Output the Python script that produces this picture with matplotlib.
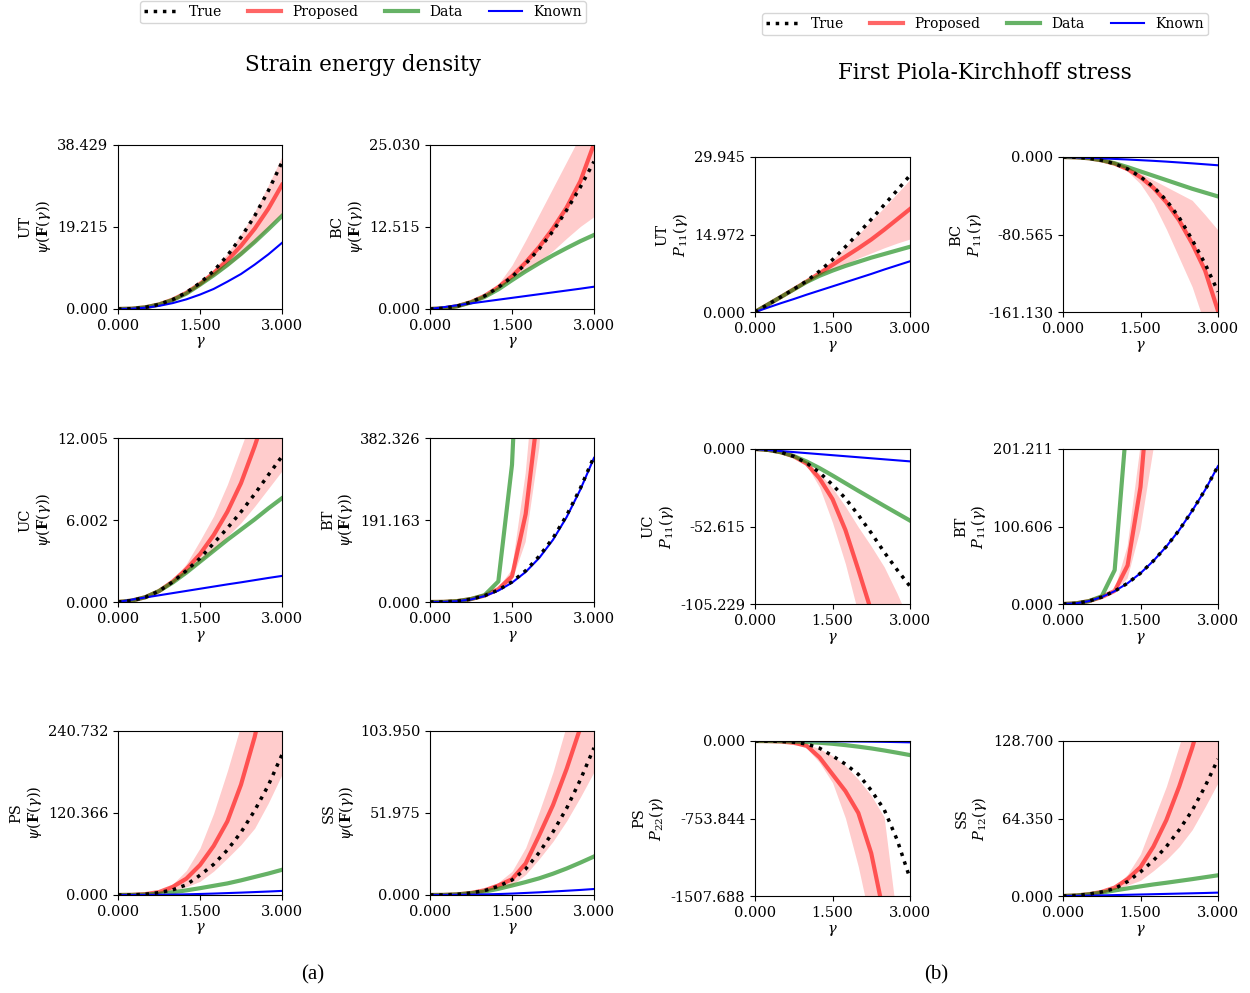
import matplotlib
matplotlib.use("Agg")
import matplotlib.pyplot as plt
from matplotlib.lines import Line2D

plt.rcParams['font.family'] = ['DejaVu Serif']
plt.rcParams['mathtext.fontset'] = 'dejavuserif'
plt.rcParams['font.size'] = 10.5

GAMMA = [0, 0.25, 0.5, 0.75, 1.0, 1.25, 1.5, 1.75, 2.0, 2.25, 2.5, 2.75, 3.0]
CASES = ["UT", "BC", "UC", "BT", "PS", "SS"]
SERIES_LABELS = ["True", "Proposed", "Data", "Known"]

# ---------------- Strain energy density psi ----------------
psi_UT_true = [0, 0.07, 0.39, 1.07, 2.2, 3.85, 6.1, 8.9, 12.5, 16.8, 21.8, 27.7, 34.4]
psi_UT_prop = [0, 0.07, 0.39, 1.07, 2.2, 3.8, 5.9, 8.4, 11.4, 14.8, 18.8, 23.5, 29.1]
psi_UT_hi = [0, 0.07, 0.4, 1.1, 2.25, 3.95, 6.3, 9.3, 13.0, 17.5, 22.8, 29.0, 35.8]
psi_UT_lo = [0, 0.07, 0.38, 1.04, 2.1, 3.65, 5.6, 7.7, 10.0, 12.6, 15.6, 18.9, 22.5]
psi_UT_data = [0, 0.07, 0.39, 1.05, 2.1, 3.6, 5.7, 7.9, 10.3, 12.9, 15.7, 18.7, 21.8]
psi_UT_known = [0, 0.065, 0.3, 0.73, 1.38, 2.26, 3.38, 4.7, 6.4, 8.2, 10.4, 12.8, 15.5]

psi_BC_true = [0, 0.095, 0.44, 1.06, 2.0, 3.3, 4.9, 6.9, 9.2, 11.9, 15.1, 18.6, 22.5]
psi_BC_prop = [0, 0.095, 0.44, 1.06, 2.0, 3.35, 5.0, 7.1, 9.5, 12.3, 15.5, 19.5, 25.2]
psi_BC_hi = [0, 0.1, 0.46, 1.1, 2.15, 3.8, 6.7, 10.5, 14.5, 18.5, 22.5, 26.5, 30.5]
psi_BC_lo = [0, 0.09, 0.42, 1.0, 1.9, 3.2, 4.6, 5.9, 7.2, 8.9, 10.8, 12.6, 14.1]
psi_BC_data = [0, 0.09, 0.42, 1.0, 1.85, 3.0, 4.4, 5.75, 7.0, 8.2, 9.3, 10.35, 11.3]
psi_BC_known = [0, 0.28, 0.57, 0.86, 1.14, 1.42, 1.7, 1.98, 2.26, 2.54, 2.82, 3.1, 3.4]

psi_UC_true = [0, 0.1, 0.35, 0.8, 1.47, 2.3, 3.2, 4.3, 5.4, 6.6, 7.9, 9.3, 10.66]
psi_UC_prop = [0, 0.1, 0.35, 0.8, 1.5, 2.4, 3.5, 4.9, 6.6, 8.7, 11.4, 14.4, 17.6]
psi_UC_hi = [0, 0.1, 0.36, 0.85, 1.6, 2.8, 4.5, 6.3, 8.6, 11.3, 14.0, 17.0, 20.0]
psi_UC_lo = [0, 0.1, 0.34, 0.78, 1.4, 2.1, 2.9, 3.8, 4.8, 5.8, 7.0, 8.3, 9.6]
psi_UC_data = [0, 0.1, 0.35, 0.8, 1.42, 2.15, 2.95, 3.75, 4.55, 5.3, 6.05, 6.85, 7.6]
psi_UC_known = [0, 0.17, 0.33, 0.49, 0.65, 0.81, 0.97, 1.13, 1.29, 1.44, 1.6, 1.76, 1.91]

psi_BT_true = [0, 0.28, 2.05, 6.5, 14.8, 28, 47, 73, 107, 149, 202, 265, 339]
psi_BT_prop = [0, 0.3, 2.1, 6.8, 15, 30, 60, 205, 470, 900, 1500, 2200, 3000]
psi_BT_hi = [0, 0.3, 2.1, 7, 16, 33, 75, 300, 650, 1200, 1800, 2500, 3200]
psi_BT_lo = [0, 0.28, 2.0, 6.5, 14.5, 27, 48, 140, 360, 800, 1400, 2000, 2700]
psi_BT_data = [0, 0.3, 2.1, 7, 16, 48, 320, 1000, 2000, 3000, 4000, 5000, 6000]
psi_BT_known = [0, 0.25, 1.9, 6.0, 13.8, 26.5, 45, 70, 103, 145, 198, 262, 336]

psi_PS_true = [0, 0.15, 1.1, 3.5, 7.5, 15, 29, 45, 66, 92, 124, 161, 206]
psi_PS_prop = [0, 0.2, 1.3, 4.3, 12, 24, 44, 72, 108, 162, 232, 320, 420]
psi_PS_hi = [0, 0.2, 1.5, 5.5, 16, 36, 69, 120, 182, 250, 330, 430, 540]
psi_PS_lo = [0, 0.1, 0.9, 3, 7, 12, 20, 35, 54, 74, 98, 135, 177]
psi_PS_data = [0, 0.1, 0.6, 1.8, 4, 6.8, 10, 13.5, 17, 21.5, 26.5, 31.5, 37]
psi_PS_known = [0, 0.02, 0.1, 0.3, 0.6, 1.0, 1.5, 2.1, 2.8, 3.5, 4.3, 5.1, 6.0]

psi_SS_true = [0, 0.05, 0.4, 1.3, 2.8, 5.5, 9.5, 16.5, 27, 40, 55, 73, 93.3]
psi_SS_prop = [0, 0.05, 0.4, 1.3, 3, 6, 10, 20, 38, 57, 80, 106, 135]
psi_SS_hi = [0, 0.06, 0.5, 1.6, 3.8, 8, 15, 30, 53, 78, 108, 140, 175]
psi_SS_lo = [0, 0.04, 0.3, 1.0, 2.3, 4, 6.4, 13, 23, 34, 47, 62, 78]
psi_SS_data = [0, 0.05, 0.4, 1.1, 2.2, 3.9, 6, 8.2, 10.6, 13.5, 16.8, 20.5, 24.4]
psi_SS_known = [0, 0.02, 0.1, 0.2, 0.4, 0.6, 0.9, 1.3, 1.7, 2.2, 2.7, 3.2, 3.8]

# ---------------- First Piola-Kirchhoff stress ----------------
P_UT_true = [0, 1.45, 2.9, 4.4, 6.0, 7.9, 10.1, 12.6, 15.2, 17.9, 20.7, 23.5, 26.4]
P_UT_prop = [0, 1.45, 2.9, 4.4, 5.9, 7.5, 9.1, 10.7, 12.3, 14.0, 15.9, 17.9, 19.9]
P_UT_hi = [0, 1.45, 2.9, 4.4, 6.0, 7.9, 10.1, 12.5, 15.0, 17.6, 20.2, 22.9, 25.6]
P_UT_lo = [0, 1.45, 2.9, 4.3, 5.7, 7.0, 8.2, 9.3, 10.4, 11.4, 12.4, 13.3, 14.1]
P_UT_data = [0, 1.45, 2.9, 4.35, 5.8, 7.0, 8.0, 8.9, 9.7, 10.5, 11.2, 11.9, 12.6]
P_UT_known = [0, 0.85, 1.7, 2.5, 3.35, 4.15, 4.95, 5.75, 6.55, 7.35, 8.2, 9.0, 9.8]

P_BC_true = [0, -0.3, -1.3, -3.5, -7, -12.5, -20.5, -31, -45, -63, -86, -111, -140]
P_BC_prop = [0, -0.3, -1.3, -3.5, -7, -12.5, -21, -32, -47, -66, -90, -118, -160]
P_BC_hi = [0, -0.3, -1.2, -3.3, -6.5, -11, -17, -24, -31, -38, -45, -60, -76]
P_BC_lo = [0, -0.35, -1.5, -4, -8, -15, -28, -48, -75, -105, -135, -175, -220]
P_BC_data = [0, -0.3, -1.3, -3.4, -6.5, -10.5, -15, -19.5, -24, -28.5, -33, -37, -41]
P_BC_known = [0, -0.4, -0.9, -1.4, -2.0, -2.6, -3.3, -4.0, -4.8, -5.7, -6.6, -7.6, -8.6]

P_UC_true = [0, -0.6, -2.2, -5, -9.5, -16, -24.3, -33.5, -44.8, -57, -70, -82, -93.2]
P_UC_prop = [0, -0.6, -2.2, -5, -10, -20, -34, -55, -82, -110, -140, -175, -210]
P_UC_hi = [0, -0.6, -2.2, -5, -9.5, -16.5, -26.5, -39, -53, -66, -80, -98, -118]
P_UC_lo = [0, -0.6, -2.3, -5.5, -11, -26, -50, -78, -112, -150, -190, -230, -270]
P_UC_data = [0, -0.6, -2.2, -4.8, -8.5, -13, -18, -23.2, -28.4, -33.5, -38.6, -43.6, -48.6]
P_UC_known = [0, -0.7, -1.4, -2.1, -2.8, -3.5, -4.2, -4.9, -5.6, -6.3, -7.0, -7.7, -8.4]

P_BT_true = [0, 0.8, 3.7, 9, 16.7, 27, 40, 56, 74.6, 96, 121, 148, 179]
P_BT_prop = [0, 0.8, 3.7, 9, 17, 50, 152, 350, 700, 1100, 1500, 2000, 2500]
P_BT_hi = [0, 0.8, 3.8, 9.5, 18, 75, 205, 480, 900, 1400, 1900, 2400, 2900]
P_BT_lo = [0, 0.8, 3.6, 8.8, 16, 33, 96, 200, 420, 800, 1200, 1600, 2000]
P_BT_data = [0, 0.8, 3.7, 10, 44, 250, 800, 1500, 2500, 3500, 4500, 5500, 6500]
P_BT_known = [0, 0.8, 3.7, 9, 16.7, 27, 40, 56, 74.6, 96, 121, 148, 179]

P_PS_true = [0, -1, -4, -12, -29, -70, -144, -225, -324, -480, -667, -960, -1337]
P_PS_prop = [0, -1, -5, -18, -46, -160, -324, -487, -700, -1092, -1700, -2400, -3200]
P_PS_hi = [0, -1, -4, -12, -30, -75, -144, -240, -373, -530, -740, -1750, -2500]
P_PS_lo = [0, -1, -6, -25, -70, -210, -405, -750, -1223, -1800, -2500, -3200, -4000]
P_PS_data = [0, -0.5, -2, -5, -10, -17, -27, -40, -55, -72, -92, -114, -137]
P_PS_known = [0, -0.1, -0.3, -0.7, -1.2, -1.9, -2.8, -3.8, -5, -6.5, -8.3, -10.5, -13]

P_SS_true = [0, 0.4, 1.5, 3.4, 6.1, 12, 20, 29.5, 41, 55, 71, 91, 113.7]
P_SS_prop = [0, 0.4, 1.5, 3.4, 7, 14, 24, 41, 63, 91, 123, 160, 200]
P_SS_hi = [0, 0.4, 1.6, 4, 8, 18, 35, 63, 91, 125, 160, 200, 240]
P_SS_lo = [0, 0.4, 1.4, 3, 5.5, 9, 13, 21, 30, 41, 55, 74, 94]
P_SS_data = [0, 0.4, 1.4, 2.8, 4.6, 6.3, 8, 9.6, 11, 12.5, 14, 15.6, 17.2]
P_SS_known = [0, 0.1, 0.3, 0.5, 0.75, 1, 1.25, 1.5, 1.75, 2, 2.25, 2.5, 2.8]

# axis ranges and tick labels
psi_ylims = [(0, 38.429), (0, 25.030), (0, 12.005), (0, 382.326), (0, 240.732), (0, 103.950)]
psi_yticklabels = [["0.000", "19.215", "38.429"], ["0.000", "12.515", "25.030"],
                   ["0.000", "6.002", "12.005"], ["0.000", "191.163", "382.326"],
                   ["0.000", "120.366", "240.732"], ["0.000", "51.975", "103.950"]]
P_ylims = [(0, 29.945), (-161.130, 0), (-105.229, 0), (0, 201.211), (-1507.688, 0), (0, 128.700)]
P_yticklabels = [["0.000", "14.972", "29.945"], ["-161.130", "-80.565", "0.000"],
                 ["-105.229", "-52.615", "0.000"], ["0.000", "100.606", "201.211"],
                 ["-1507.688", "-753.844", "0.000"], ["0.000", "64.350", "128.700"]]
P_components = ["P_{11}", "P_{11}", "P_{11}", "P_{11}", "P_{22}", "P_{12}"]
xticklabels = ["0.000", "1.500", "3.000"]

psi_sets = [
    (psi_UT_true, psi_UT_prop, psi_UT_lo, psi_UT_hi, psi_UT_data, psi_UT_known),
    (psi_BC_true, psi_BC_prop, psi_BC_lo, psi_BC_hi, psi_BC_data, psi_BC_known),
    (psi_UC_true, psi_UC_prop, psi_UC_lo, psi_UC_hi, psi_UC_data, psi_UC_known),
    (psi_BT_true, psi_BT_prop, psi_BT_lo, psi_BT_hi, psi_BT_data, psi_BT_known),
    (psi_PS_true, psi_PS_prop, psi_PS_lo, psi_PS_hi, psi_PS_data, psi_PS_known),
    (psi_SS_true, psi_SS_prop, psi_SS_lo, psi_SS_hi, psi_SS_data, psi_SS_known),
]
P_sets = [
    (P_UT_true, P_UT_prop, P_UT_lo, P_UT_hi, P_UT_data, P_UT_known),
    (P_BC_true, P_BC_prop, P_BC_lo, P_BC_hi, P_BC_data, P_BC_known),
    (P_UC_true, P_UC_prop, P_UC_lo, P_UC_hi, P_UC_data, P_UC_known),
    (P_BT_true, P_BT_prop, P_BT_lo, P_BT_hi, P_BT_data, P_BT_known),
    (P_PS_true, P_PS_prop, P_PS_lo, P_PS_hi, P_PS_data, P_PS_known),
    (P_SS_true, P_SS_prop, P_SS_lo, P_SS_hi, P_SS_data, P_SS_known),
]

W, H = 1250, 993
fig = plt.figure(figsize=(W / 100, H / 100), dpi=100)


def px_axes(x0, y0, x1, y1):
    return fig.add_axes([x0 / W, 1 - y1 / H, (x1 - x0) / W, (y1 - y0) / H])


def draw(ax, data, ylim, ticklabels, ylabel):
    true, prop, lo, hi, dat, known = data
    ax.fill_between(GAMMA, lo, hi, color='r', alpha=0.2, linewidth=0)
    ax.plot(GAMMA, prop, color='r', alpha=0.6, lw=3)
    ax.plot(GAMMA, dat, color='g', alpha=0.6, lw=3)
    ax.plot(GAMMA, known, color='b', lw=1.5)
    ax.plot(GAMMA, true, color='k', ls=':', lw=2.5)
    ax.set_xlim(0, 3)
    ax.set_ylim(*ylim)
    ax.set_xticks([0, 1.5, 3])
    ax.set_xticklabels(xticklabels)
    ax.set_yticks([ylim[0], (ylim[0] + ylim[1]) / 2, ylim[1]])
    ax.set_yticklabels(ticklabels)
    ax.set_xlabel(r'$\gamma$', labelpad=2)
    ax.set_ylabel(ylabel, linespacing=1.1, labelpad=3)
    ax.tick_params(direction='out', length=3.5, pad=3.5)


left_cols = [(118, 282), (430, 594)]
left_rows = [(145, 309), (438, 602), (731, 895)]
right_cols = [(755, 910), (1063, 1218)]
right_rows = [(157, 312), (449, 604), (741, 896)]

for i, case in enumerate(CASES):
    r, c = divmod(i, 2)
    ax = px_axes(left_cols[c][0], left_rows[r][0], left_cols[c][1], left_rows[r][1])
    draw(ax, psi_sets[i], psi_ylims[i], psi_yticklabels[i],
         case + "\n" + r'$\psi(\mathbf{F}(\gamma))$')
    ax = px_axes(right_cols[c][0], right_rows[r][0], right_cols[c][1], right_rows[r][1])
    draw(ax, P_sets[i], P_ylims[i], P_yticklabels[i],
         case + "\n" + r'$' + P_components[i] + r'(\gamma)$')

handles = [Line2D([], [], color='k', ls=':', lw=2.5),
           Line2D([], [], color='r', alpha=0.6, lw=3),
           Line2D([], [], color='g', alpha=0.6, lw=3),
           Line2D([], [], color='b', lw=1.5)]

leg_kw = dict(loc='upper center', ncol=4, fontsize=10, frameon=True,
              handlelength=2.4, columnspacing=1.9, borderpad=0.3, handletextpad=0.8)
fig.legend(handles, SERIES_LABELS, bbox_to_anchor=(363 / W, 1.006), **leg_kw)
fig.legend(handles, SERIES_LABELS, bbox_to_anchor=(985 / W, 1 - 6 / H), **leg_kw)

fig.text(363 / W, 1 - 65 / H, 'Strain energy density', ha='center', va='center', fontsize=15.5)
fig.text(985 / W, 1 - 73 / H, 'First Piola-Kirchhoff stress', ha='center', va='center', fontsize=15.5)
fig.text(313 / W, 1 - 975 / H, '(a)', ha='center', va='center', fontsize=15, family='Liberation Serif')
fig.text(936 / W, 1 - 975 / H, '(b)', ha='center', va='center', fontsize=15, family='Liberation Serif')

fig.savefig('out.png', dpi=100)
